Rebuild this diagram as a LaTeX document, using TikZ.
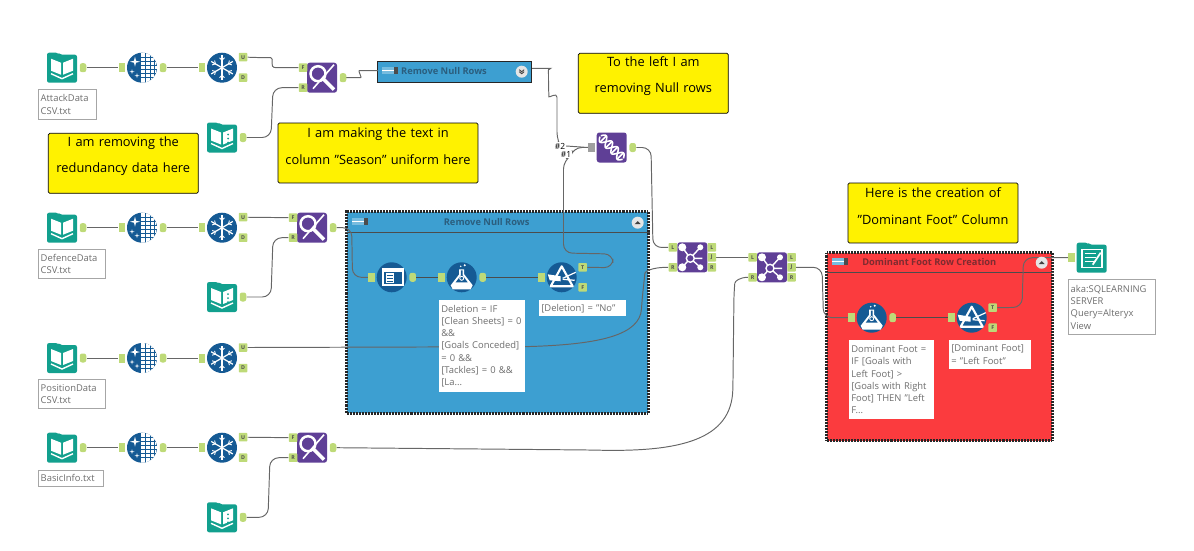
\documentclass[tikz,border=0pt]{standalone}
\usepackage{xcolor}
\usepackage{fontspec}
\setmainfont{Open Sans}
\usetikzlibrary{backgrounds}
\hyphenpenalty=10000
\definecolor{toolteal}{RGB}{18,160,142}
\definecolor{toolblue}{RGB}{21,90,148}
\definecolor{toolpurple}{RGB}{95,63,150}
\definecolor{portlime}{RGB}{190,218,120}
\definecolor{contblue}{RGB}{61,159,209}
\definecolor{contred}{RGB}{251,59,62}
\definecolor{titleblue}{RGB}{43,94,126}
\definecolor{titlered}{RGB}{126,43,48}
\definecolor{labelgray}{RGB}{110,110,110}

\newcommand{\sparkle}[3]{%
  \fill[white] (#1-#3,#2) -- (#1-.2*#3,#2-.2*#3) -- (#1,#2-#3) -- (#1+.2*#3,#2-.2*#3)
    -- (#1+#3,#2) -- (#1+.2*#3,#2+.2*#3) -- (#1,#2+#3) -- (#1-.2*#3,#2+.2*#3) -- cycle;}
\newcommand{\folderbody}{%
  \fill[toolteal, rounded corners=1.2pt] (-15,-15) -- (-4,-15) -- (-2,-13) -- (15,-13)
    -- (15,15) -- (-15,15) -- cycle;}
\newcommand{\purplebody}{\fill[toolpurple, rounded corners=1.5pt] (-15,-15) rectangle (15,15);}
\newcommand{\openbook}{%
  \fill[white] (-11,-9) -- (-1,-5) -- (-1,7) -- (-11,3) -- cycle;
  \fill[white] (11,-9) -- (1,-5) -- (1,7) -- (11,3) -- cycle;
  \draw[white, line width=.8pt] (-11,6) -- (0,11) -- (11,6);}

\tikzset{
  inport/.style={rectangle, fill=portlime, minimum width=.13cm, minimum height=.18cm, inner sep=0pt},
  graybar/.style={inport, fill=gray!75},
  outport/.style={rectangle, rounded corners=1.3pt, fill=portlime,
    minimum width=.13cm, minimum height=.18cm, inner sep=0pt},
  letterport/.style={rectangle, rounded corners=.4pt, fill=portlime, minimum size=.17cm,
    inner sep=0pt, text=black!70, font=\fontsize{3}{3}\selectfont\bfseries},
  wire/.style={draw=black!60, line width=.55pt, rounded corners=5pt},
  note/.style={rectangle, draw=black, fill=yellow, rounded corners=.8pt, line width=.4pt,
    minimum width=3cm, minimum height=1.2cm, text width=2.95cm, align=center, inner sep=0pt,
    font=\fontsize{7.3}{15.2}\selectfont, execute at end node={\par\vskip 8pt\hrule height 0pt}},
  toollabel/.style={rectangle, fill=white, text=labelgray, anchor=north west, align=left,
    inner xsep=.04cm, inner ysep=.05cm, font=\fontsize{5.35}{7}\selectfont},
  boxedlabel/.style={toollabel, draw=gray!70, line width=.45pt},
  contframe/.style={rectangle, inner sep=0pt, draw=black!85, line width=1.6pt,
    dash pattern=on .55pt off .3pt},
  conttitle/.style={font=\fontsize{5.3}{6}\selectfont\bfseries, inner sep=0pt},
  hashmark/.style={fill=white, inner sep=.4pt, font=\fontsize{4.8}{5}\selectfont},
  pics/bookicon/.style={code={
    \folderbody \openbook
    \node[outport] (-out) at (21,0) {};
  }},
  pics/dotbook/.style={code={
    \folderbody \openbook
    \foreach \dy in {-3,1,5} { \fill[toolteal] (6,\dy) circle (1); }
    \node[outport] (-out) at (21,0) {};
  }},
  pics/outputicon/.style={code={
    \folderbody
    \draw[white, line width=.9pt] (-10,-8) rectangle (10,10);
    \foreach \ly in {-4,0,4} { \draw[white, line width=.8pt] (-7,\ly) -- (4,\ly); }
    \draw[white, line width=1pt] (9,-5) -- (1,7);
    \node[inport] (-in) at (-20,0) {};
  }},
  pics/preparse/.style={code={
    \fill[toolblue] (0,0) circle (15);
    \begin{scope}
      \clip (0,0) circle (15);
      \fill[white] (-1,-15) rectangle (15,15);
      \foreach \gy in {-10,-6,...,10} { \draw[toolblue, line width=.4pt] (-1,\gy) -- (15,\gy); }
      \foreach \gx in {3.5,8,12} { \draw[toolblue, line width=.4pt] (\gx,-15) -- (\gx,15); }
    \end{scope}
    \sparkle{-7}{-6}{5} \sparkle{-10}{4}{2.5} \sparkle{-5}{8}{2.5}
    \node[inport] (-in) at (-20,0) {};
    \node[outport] (-out) at (21,0) {};
  }},
  pics/snowflake/.style={code={
    \fill[toolblue] (0,0) circle (15);
    \foreach \a in {30,90,...,330} {
      \draw[white, line width=.7pt] (0,0) -- (\a:12.5);
      \draw[white, line width=.5pt] (\a:7.5) -- ++(\a+45:3.5);
      \draw[white, line width=.5pt] (\a:7.5) -- ++(\a-45:3.5);
    }
    \node[inport] (-in) at (-20,0) {};
    \node[letterport] (-u) at (21,-10.5) {U};
    \node[letterport] (-d) at (21,10) {D};
  }},
  pics/findreplace/.style={code={
    \purplebody
    \draw[white, line width=1.4pt] (-4,-4) circle (7.5);
    \draw[white, line width=2pt] (1.5,1.5) -- (12,12);
    \draw[white, line width=.9pt] (12,-13) -- (-9,11);
    \node[letterport] (-f) at (-19,-10) {F};
    \node[letterport] (-r) at (-19,10) {R};
    \node[outport] (-out) at (21,0) {};
  }},
  pics/unionhelix/.style={code={
    \purplebody
    \begin{scope}[rotate=-45]
      \draw[white, line width=.9pt] plot[domain=-16:16, samples=33, smooth] (\x,{4.5*sin(22*\x)});
      \draw[white, line width=.9pt] plot[domain=-16:16, samples=33, smooth] (\x,{-4.5*sin(22*\x)});
      \foreach \hx in {-12,-8,-4,4,8,12} {
        \draw[white, line width=.9pt] (\hx,{4.5*sin(22*\hx)}) -- (\hx,{-4.5*sin(22*\hx)});
      }
    \end{scope}
    \node[graybar] (-in) at (-20,0) {};
    \node[outport] (-out) at (21,0) {};
  }},
  pics/joinicon/.style={code={
    \purplebody
    \draw[white, line width=.8pt] (-2,1) -- (-10,-10) (-2,1) -- (8,-10) (-2,1) -- (-10,10)
      (-2,1) -- (8,10) (-2,1) -- (10,1);
    \fill[white] (-10,-10) circle (4) (8,-10) circle (3) (-10,10) circle (4) (8,10) circle (3);
    \draw[white, fill=toolpurple, line width=.8pt] (-2,1) circle (4);
    \node[letterport] (-l) at (-19.5,-10) {L};
    \node[letterport] (-r) at (-19.5,10) {R};
    \node[letterport] (-ol) at (19.5,-10) {L};
    \node[letterport] (-oj) at (19.5,0) {J};
    \node[letterport] (-or) at (19.5,10) {R};
  }},
  pics/selecticon/.style={code={
    \fill[toolblue] (0,0) circle (15);
    \fill[white] (-10,-9) rectangle (12,9);
    \fill[toolblue] (-8,-5) rectangle (10,7);
    \fill[white] (-6,-4) rectangle (2,6);
    \foreach \ly in {-2,1,4} { \draw[toolblue, line width=.4pt] (-5,\ly) -- (1,\ly); }
    \node[inport] (-in) at (-20,0) {};
    \node[outport] (-out) at (21,0) {};
  }},
  pics/flaskicon/.style={code={
    \fill[toolblue] (0,0) circle (15);
    \fill[white] (-2.5,-8) -- (-2.5,-3) -- (-11,8) -- (-9,12) -- (9,12) -- (11,8) -- (2.5,-3) -- (2.5,-8) -- cycle;
    \fill[toolblue] (-.8,-7) -- (-.8,-2) -- (-6,5) -- (6,5) -- (.8,-2) -- (.8,-7) -- cycle;
    \draw[white, line width=.5pt] (0,1) circle (2);
    \fill[white] (3,-12) circle (1.1) (-1,-11) circle (.8);
    \node[inport] (-in) at (-20,0) {};
    \node[outport] (-out) at (21,0) {};
  }},
  pics/filtericon/.style={code={
    \fill[toolblue] (0,0) circle (15);
    \draw[white, line width=1.2pt, line join=round] (0,-11) -- (-11,9) -- (11,9) -- cycle;
    \fill[white] (-14,-3) -- (-1,-1) -- (-1,4) -- (-12,3) -- cycle;
    \draw[white, line width=.7pt] (1,1) -- (14,-5);
    \draw[white, line width=.7pt] (1,2) -- (13,3);
    \node[inport] (-in) at (-20,0) {};
    \node[letterport] (-t) at (21,-10) {T};
    \node[letterport] (-f) at (21,10) {F};
  }},
  pics/togglebar/.style={code={
    \fill[contblue!70!white] (-8,-3.5) rectangle (5,3.5);
    \fill[black!70] (4,-3.5) rectangle (8,3.5);
    \draw[white, line width=.5pt] (-8,0) -- (4,0);
  }},
  pics/caretup/.style={code={
    \fill[white!90!black] (0,0) circle (6);
    \fill[black!75] (-3,1.5) -- (0,-1.5) -- (3,1.5) -- cycle;
  }},
  pics/caretdown/.style={code={
    \fill[white!90!black] (0,0) circle (6);
    \draw[black!75, line width=.5pt] (-2.5,-2) -- (0,0) -- (2.5,-2) (-2.5,0) -- (0,2) -- (2.5,0);
  }},
}

\begin{document}
\begin{tikzpicture}[x=0.02cm, y=-0.02cm]
    %% 1 unit = 1 pixel of the 1194 x 551 canvas, y runs down
    \useasboundingbox (0,0) rectangle (1194,551);

    % ---- INPUT ROWS ----
    \foreach \r/\y in {1/67.7, 2/227.7, 3/358, 4/447.7} {
      \pic (book\r) at (62,\y) {bookicon};
      \pic (prep\r) at (142,\y) {preparse};
      \pic (uniq\r) at (222,\y) {snowflake};
    }
    \pic (find1) at (322,77.7) {findreplace};
    \pic (find2) at (312,227.7) {findreplace};
    \pic (find4) at (312,447.7) {findreplace};
    \pic (side1) at (222,137.5) {dotbook};
    \pic (side2) at (222,297) {dotbook};
    \pic (side4) at (222,517.3) {dotbook};

    % input labels
    \node[boxedlabel, minimum height=.59cm, text width=1.07cm] (lbl1) at (38.3,89.3) {AttackData\\CSV.txt};
    \node[boxedlabel, minimum height=.59cm, text width=1.26cm] (lbl2) at (38.3,249) {DefenceData\\CSV.txt};
    \node[boxedlabel, minimum height=.59cm, text width=1.26cm] (lbl3) at (38.3,379) {PositionData\\CSV.txt};
    \node[boxedlabel, minimum height=.32cm, text width=1.21cm] (lbl4) at (38.3,470) {BasicInfo.txt};

    % ---- YELLOW NOTES ----
    \node[note] (noteredund) at (123.3,163.3) {I am removing the\\redundancy data here};
    \node[note, minimum width=4cm, text width=3.95cm] (noteseason) at (378,153) {I am making the text in\\column "Season" uniform here};
    \node[note] (notenull) at (653.3,83.3) {To the left I am\\removing Null rows};
    \node[note, minimum width=3.4cm, text width=3.35cm] (notefoot) at (933,213) {Here is the creation of\\"Dominant Foot" Column};

    % ---- COLLAPSED CONTAINER ----
    \pic at (390,70.5) {togglebar};
    \node[conttitle, text=titleblue] (nulltitle0) at (444,70.7) {Remove Null Rows};
    \pic at (521.7,71.7) {caretdown};
    \coordinate (nullin0) at (378,70.7);
    \coordinate (nullout0) at (532,68.3);

    % ---- OPEN CONTAINER, BLUE ----
    \pic at (360,221.7) {togglebar};
    \node[conttitle, text=titleblue] (nulltitle) at (486.7,221.7) {Remove Null Rows};
    \pic at (637.7,222.7) {caretup};
    \pic (sel) at (391.7,277.3) {selecticon};
    \pic (flask1) at (461.7,277.3) {flaskicon};
    \pic (prism1) at (561.7,277.3) {filtericon};
    \node[toollabel, minimum height=1.83cm, text width=1.63cm] (lbldel) at (439,300)
      {Deletion = IF\\{}[Clean Sheets] = 0\\\&\&\\{}[Goals Conceded]\\= 0 \&\&\\{}[Tackles] = 0 \&\&\\{}[La...};
    \node[toollabel, minimum height=.32cm, text width=1.66cm] (lblno) at (539,300) {[Deletion] = "No"};

    % ---- OPEN CONTAINER, RED ----
    \pic at (840,261.7) {togglebar};
    \node[conttitle, text=titlered] (foottitle) at (929.3,261.7) {Dominant Foot Row Creation};
    \pic at (1041.7,262.7) {caretup};
    \pic (flask2) at (871.7,317.7) {flaskicon};
    \pic (prism2) at (971.7,317.7) {filtericon};
    \node[toollabel, minimum height=1.58cm, text width=1.61cm] (lblfoot) at (849,340)
      {Dominant Foot =\\IF [Goals with\\Left Foot] >\\{}[Goals with Right\\Foot] THEN "Left\\F...};
    \node[toollabel, minimum height=.57cm, text width=1.56cm] (lblleft) at (949,340)
      {[Dominant Foot]\\= "Left Foot"};

    % ---- UNION, JOINS, OUTPUT ----
    \pic (union) at (611.7,147.5) {unionhelix};
    \node[hashmark] (hash2) at (560,146) {\#2};
    \node[hashmark] (hash1) at (566,154.5) {\#1};
    \pic (join1) at (692.3,257.3) {joinicon};
    \pic (join2) at (772,267.3) {joinicon};
    \pic (sink) at (1091.7,257.7) {outputicon};
    \node[boxedlabel, minimum height=1.1cm, text width=1.65cm] (lblsink) at (1068.3,279.3)
      {aka:SQLEARNING\\SERVER\\Query=Alteryx\\View};

    % ---- BOXES AND WIRES BEHIND THE TOOLS ----
    \begin{pgfonlayer}{background}
      \node[contframe, fill=contblue, minimum width=3.09cm, minimum height=.41cm, line width=.6pt, dash pattern=] (nullbox0) at (454.5,72) {};
      \node[contframe, fill=contblue, minimum width=6.03cm, minimum height=4.03cm] (nullbox) at (497.5,312.5) {};
      \node[contframe, fill=contred, minimum width=4.51cm, minimum height=3.76cm] (footbox) at (939.5,346.7) {};
      \draw[black!70, line width=.5pt] (nullbox.west |- 0,232.7) -- (nullbox.east |- 0,232.7);
      \draw[black!70, line width=.5pt] (footbox.west |- 0,272.7) -- (footbox.east |- 0,272.7);

      \foreach \r in {1,...,4} {
        \draw[wire] (book\r-out) -- (prep\r-in);
        \draw[wire] (prep\r-out) -- (uniq\r-in);
      }
      % first row
      \draw[wire] (uniq1-u.east) -- (262,57.7) .. controls (275,57.7) and (268,67.7) .. (285,67.7) -- (find1-f.west);
      \draw[wire] (side1-out.east) -- (271,137.5) -- (273,87.7) -- (find1-r.west);
      \draw[wire] (find1-out.east) -- (352,77.7) .. controls (362,77.7) and (358,70.7) .. (368,70.7) -- (nullin0);
      \draw[wire] (nullout0) -- (542,68.3) .. controls (548,68.3) and (548.5,72) .. (548.5,78) -- (548.5,88)
        .. controls (549,98) and (557,92) .. (557,106) -- (557,141) -- (hash2);
      \draw[wire] (hash2.east) -- (union-in.west);
      \draw[wire] (hash1.north east) -- (573,147.5) -- (union-in.west);
      \draw[wire] (union-out.east) -- (651,147.5) -- (653,247.7) -- (join1-l.west);
      % second row
      \draw[wire] (uniq2-u) -- (find2-f);
      \draw[wire] (side2-out.east) -- (271,297) -- (273,237.7) -- (find2-r.west);
      \draw[wire] (find2-out.east) -- (351.7,227.7) -- (352.5,277.3) -- (sel-in.west);
      \draw[wire, draw=black!70] (sel-out) -- (flask1-in);
      \draw[wire, draw=black!70] (flask1-out) -- (prism1-in);
      \draw[wire] (prism1-t.east) -- (613,267.7) -- (613,254) -- (563.5,253) -- (563.5,160) -- (hash1.south);
      % third row
      \draw[wire] (uniq3-u.east) -- (525,346.7) .. controls (600,344) and (640,335) .. (642,300)
        -- (644,282) .. controls (645,272) and (650,267.3) .. (join1-r.west);
      % joins
      \draw[wire] (join1-oj) -- (join2-l);
      \draw[wire] (join2-oj.east) -- (822,267.3) -- (823.5,317.7) -- (flask2-in.west);
      % fourth row
      \draw[wire] (uniq4-u) -- (find4-f);
      \draw[wire] (side4-out.east) -- (268,517.3) -- (270,457.7) -- (find4-r.west);
      \draw[wire] (find4-out.east) -- (590,450) .. controls (680,452) and (732,440) .. (733,380)
        -- (734,292) .. controls (735,281) and (740,277.3) .. (join2-r.west);
      % red container
      \draw[wire, draw=black!70] (flask2-out) -- (prism2-in);
      \draw[wire] (prism2-t.east) -- (1022,307.3) -- (1023.5,257.7) -- (sink-in.west);
    \end{pgfonlayer}
\end{tikzpicture}
\end{document}
